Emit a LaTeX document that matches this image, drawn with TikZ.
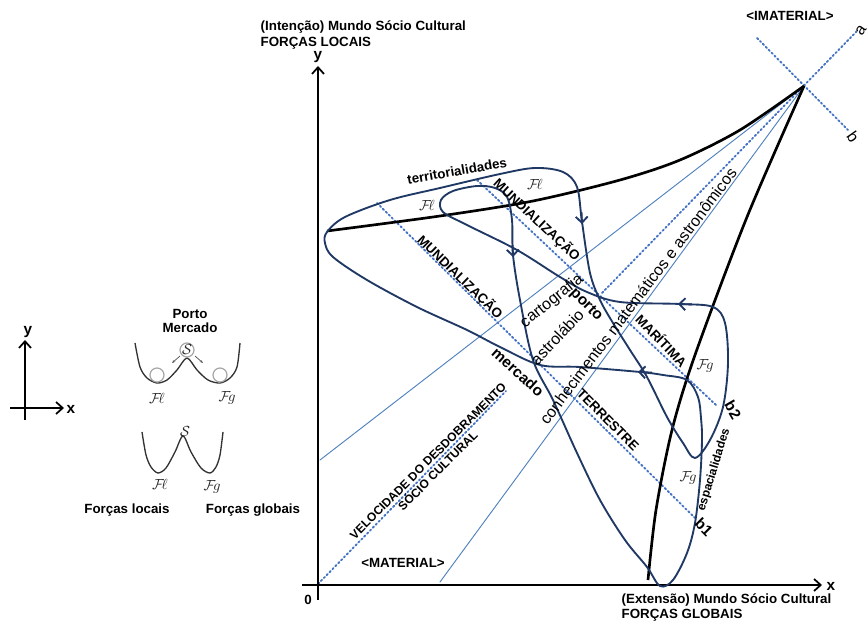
\documentclass[tikz,border=0pt]{standalone}
\usepackage{fontspec}
\setmainfont{Liberation Sans}
\usepackage{amsmath, amssymb}
\usepackage{tikz}
\usetikzlibrary{calc, arrows.meta}
\usepackage{tkz-euclide}
\definecolor{fioazul}{RGB}{31,56,100}
\definecolor{raioazul}{RGB}{79,129,189}
\definecolor{pontazul}{RGB}{68,114,196}

\begin{document}
\begin{tikzpicture}[x=0.75pt, y=-0.75pt,
  fio/.style={fioazul, line width=1.4pt},
  seta/.style={fioazul, line width=1.4pt, -{Straight Barb[length=4.5pt,width=9pt]}},
  raio/.style={raioazul, line width=0.7pt},
  pontos/.style={pontazul, line width=1.4pt, dash pattern=on 1.2pt off 1.9pt},
  forca/.style={black, line width=2pt},
  eixo/.style={black, line width=0.8pt, -{Straight Barb[length=5pt,width=9pt,line width=1.3pt]}},
  poco/.style={black!80, line width=1pt},
  bola/.style={black!35, line width=0.9pt},
  rot/.style={font=\bfseries\fontsize{10}{12}\selectfont},
  rotg/.style={font=\bfseries\fontsize{11.5}{13}\selectfont},
  rotp/.style={font=\bfseries\fontsize{9}{10.5}\selectfont},
  txt/.style={font=\fontsize{12}{14}\selectfont},
  fs/.style={font=\fontsize{11}{13}\selectfont, black!85}]
\useasboundingbox (0,0) rectangle (868,627);
\tkzDefPoints{318/584/O, 804/86/P, 858/30/A, 757/38/B1, 848/130/B2, 320/460/R1, 440/582/R2,
  506/391/D1, 602/293/D2, 477/180/M1, 716/405/M2, 377/203/T1, 695/518/T2}
\tkzDrawSegments[raio](P,R1 P,R2)
\tkzDrawSegments[pontos](O,D1 D2,A B1,B2 M1,M2 T1,T2)
\draw[eixo] (318,600) -- (318,66);
\draw[eixo] (302,585) -- (822,585);
\draw[forca] plot[smooth] coordinates {(327,231) (440,216) (533,201) (620,180) (680,160) (740,130) (804,86)};
\draw[forca] plot[smooth] coordinates {(648,580) (656,510) (672,430) (695,355) (747,217) (804,86)};
\draw[fio] plot[smooth cycle, tension=0.55] coordinates {(327,232) (345,217) (390,200) (440,188) (500,174) (535,168)
  (563,172) (577,187) (582,222) (590,273) (600,300) (613,323) (630,350) (647,377) (667,417) (683,443) (695,458)
  (710,440) (723,407) (728,363) (725,323) (713,307) (680,304) (620,302) (587,292) (560,277) (517,250) (467,225)
  (443,212) (441,200) (453,191) (477,186) (495,188) (507,197) (512,220) (513,255) (520,300) (533,360) (553,400)
  (577,453) (600,500) (625,540) (647,567) (660,586) (673,580) (687,553) (695,523) (700,480) (702,440) (701,418)
  (698,397) (687,380) (663,375) (640,372) (580,367) (540,365) (500,347) (467,330) (417,307) (367,280) (333,257)
  (325,243)};
\draw[seta] (581.5,212) -- (582,224);
\draw[seta] (512.6,245) -- (513,257);
\draw[seta] (692,304.4) -- (678,304);
\draw[seta] (652,372.6) -- (638,372);
\node[rot, anchor=west] (intencao) at (256,27) {(Intenção) Mundo Sócio Cultural};
\node[rot, anchor=west] (locais) at (256,43) {FORÇAS LOCAIS};
\node[rot, anchor=west] (extensao) at (617,600) {(Extensão) Mundo Sócio Cultural};
\node[rot, anchor=west] (globais) at (617,615) {FORÇAS GLOBAIS};
\node[rot] (imaterial) at (790,16) {<IMATERIAL>};
\node[rot] (material) at (403,563) {<MATERIAL>};
\node[rotg] (ylab) at (318,57) {y};
\node[rotg] (xlab) at (831,586) {x};
\node[rot] (zero) at (308,600) {0};
\node[rot, rotate=10] (territ) at (457,171) {territorialidades};
\node[rot, rotate=-43] (mund1) at (537,220) {MUNDIALIZAÇÃO};
\node[rot, rotate=-44] (mund2) at (460,277) {MUNDIALIZAÇÃO};
\node[rot, rotate=-46] (maritima) at (662,340) {MARÍTIMA};
\node[rot, rotate=-45] (terrestre) at (608,420) {TERRESTRE};
\node[rotg, rotate=-45] (porto) at (586,305) {porto};
\node[rotg, rotate=-42] (mercado) at (518,372) {mercado};
\node[txt, rotate=39] (carto) at (552,301) {cartografia};
\node[txt, rotate=47] (astro) at (557,337) {astrolábio};
\node[txt, rotate=53] (conhec) at (638,296) {conhecimentos matemáticos e astronômicos};
\node[rotp, rotate=45, align=center] (veloc) at (433,466) {VELOCIDADE DO DESDOBRAMENTO\\SÓCIO CULTURAL};
\node[rotp, rotate=73] (espac) at (714,470) {espacialidades};
\node[rotg, rotate=-60] (b2) at (733,410) {b2};
\node[rotg, rotate=-45] (b1) at (704,527) {b1};
\node[txt, rotate=55] (alab) at (861,30) {a};
\node[txt, rotate=-55] (blab) at (853,137) {b};
\node[fs] (fl1) at (427,205) {$\mathcal{F}\!\ell$};
\node[fs] (fl2) at (535,184) {$\mathcal{F}\!\ell$};
\node[fs] (fg1) at (705,366) {$\mathcal{F}\!g$};
\node[fs] (fg2) at (688,478) {$\mathcal{F}\!g$};
\draw[eixo] (25,420) -- (25,340);
\draw[eixo] (10,408) -- (64,408);
\node[rotg] (ymini) at (28,332) {y};
\node[rotg] (xmini) at (71,409) {x};
\node[rot] (portolab) at (190,314) {Porto};
\node[rot] (mercadolab) at (190,328) {Mercado};
\draw[poco] plot[smooth] coordinates {(135,343) (140,367) (147,378) (157,383) (167,380) (177,370) (187,358)
  (197,370) (208,380) (220,383) (230,378) (237,367) (240,343)};
\draw[bola] (157,375) circle[radius=5.25pt];
\draw[bola] (220,375) circle[radius=5.25pt];
\draw[bola] (187,350) circle[radius=5.25pt];
\node[fs] (s1) at (187,350) {$\mathcal{S}$};
\draw[black!70, line width=0.5pt, -{Stealth[length=2.5pt]}] (180,356) -- (172,363);
\draw[black!70, line width=0.5pt, -{Stealth[length=2.5pt]}] (195,356) -- (203,363);
\node[fs] (flmini1) at (157,398) {$\mathcal{F}\!\ell$};
\node[fs] (fgmini1) at (227,398) {$\mathcal{F}\!g$};
\draw[poco] plot[smooth] coordinates {(142,432) (146,455) (151,467) (158,473) (166,468) (175,452) (183,436)
  (191,452) (201,468) (210,473) (216,467) (220,455) (223,432)};
\node[fs] (s2) at (185,432) {$\mathcal{S}$};
\node[fs] (flmini2) at (160,484) {$\mathcal{F}\!\ell$};
\node[fs] (fgmini2) at (212,487) {$\mathcal{F}\!g$};
\node[rot] (flocais) at (127,510) {Forças locais};
\node[rot] (fglobais) at (253,510) {Forças globais};
\end{tikzpicture}
\end{document}
